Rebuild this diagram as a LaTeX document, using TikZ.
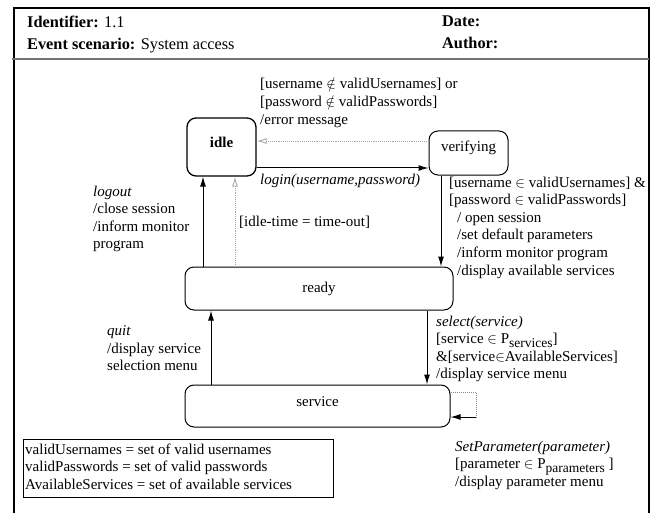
\documentclass[tikz,border=0pt]{standalone}
\usepackage{fontspec}
\setmainfont{Liberation Serif}
\usetikzlibrary{arrows.meta}
\newcommand{\subtxt}[1]{\raisebox{-3.5pt}{\fontsize{13.5}{15}\selectfont #1}}
\begin{document}
\begin{tikzpicture}[x=1pt,y=-1pt,
  state/.style={draw, rounded corners=9pt, line width=1pt, inner sep=0, font=\fontsize{15}{17.5}\selectfont},
  lbl/.style={anchor=north west, inner sep=0, align=left, font=\fontsize{15}{17.6}\selectfont},
  hdr/.style={anchor=north west, inner sep=0, align=left, font=\fontsize{16.3}{22}\selectfont},
  arr/.style={-{Latex[length=10pt,width=6pt]}, line width=1pt},
  darr/.style={-{Latex[length=10pt,width=6pt,open]}, line width=0.9pt, black!35, densely dotted},
]
\useasboundingbox (0,0) rectangle (655,513);
% frame
\draw[line width=2.5pt] (14,513) -- (14,8) -- (649,8) -- (649,513);
\draw[line width=1.2pt, black!55] (12,59) -- (649,59);
% header
\node[hdr] (hleft) at (27,16) {\textbf{Identifier:} 1.1\\\textbf{Event scenario:} System access};
\node[hdr] (hright) at (442,16) {\textbf{Date:}\\\textbf{Author:}};
% states
\node[state, minimum width=69pt, minimum height=58pt, line width=1.3pt, text depth=10pt] (idle) at (221.5,147) {\textbf{idle}};
\node[state, minimum width=79pt, minimum height=44pt, text depth=13pt] (verifying) at (468.5,153) {verifying};
\node[state, minimum width=268pt, minimum height=43pt] (ready) at (319,288.5) {ready};
\node[state, minimum width=265pt, minimum height=42pt, text depth=9pt] (service) at (317.5,406) {service};
% connectors
\draw[darr] (verifying.west |- 0,141) -- (idle.east |- 0,141);
\draw[arr] (idle.east |- 0,168) -- (verifying.west |- 0,168);
\draw[arr] (verifying.south -| 441,0) -- (ready.north -| 441,0);
\draw[arr] (ready.north -| 203,0) -- (idle.south -| 203,0);
\draw[darr] (ready.north -| 235,0) -- (idle.south -| 235,0);
\draw[arr] (service.north -| 211,0) -- (ready.south -| 211,0);
\draw[arr] (ready.south -| 427,0) -- (service.north -| 427,0);
\coordinate (loopa) at (476,392);
\coordinate (loopb) at (476,417);
\draw[line width=1pt, black!45, densely dotted] (service.east |- loopa) -- (loopa) -- (loopb);
\draw[arr] (loopb) -- (service.east |- loopb);
% labels
\node[lbl] (errlbl) at (260,78) {{[}username $\notin$ validUsernames] or\\{[}password $\notin$ validPasswords]\\/error message};
\node[lbl] (loginlbl) at (260,174) {\textit{login(username,password)}};
\node[lbl] (verlbl) at (449,176.5) {{[}username $\in$ validUsernames] \&\\{[}password $\in$ validPasswords]\\\hspace*{8pt}/ open session\\\hspace*{8pt}/set default parameters\\\hspace*{8pt}/inform monitor program\\\hspace*{8pt}/display available services};
\node[lbl] (logoutlbl) at (93,185.5) {\textit{logout}\\/close session\\/inform monitor\\program};
\node[lbl] (idlelbl) at (239,215.5) {{[}idle-time = time-out]};
\node[lbl] (quitlbl) at (107,325.5) {\textit{quit}\\/display service\\selection menu};
\node[lbl] (sellbl) at (436,315.5) {\textit{select(service)}\\{[}service $\in$ P\subtxt{services}]\\\&[service$\in$AvailableServices]\\/display service menu};
\node[lbl] (setlbl) at (455,440.5) {\textit{SetParameter(parameter)}\\{[}parameter $\in$ P\subtxt{parameters} ]\\/display parameter menu};
% legend
\node[draw, line width=1pt, anchor=north west, inner sep=0, minimum width=310pt, minimum height=58pt] (legend) at (23,439) {};
\node[lbl] (legendtxt) at (25,443.5) {validUsernames = set of valid usernames\\validPasswords = set of valid passwords\\AvailableServices = set of available services};
\end{tikzpicture}
\end{document}
